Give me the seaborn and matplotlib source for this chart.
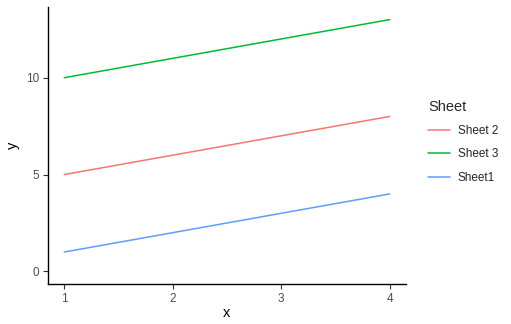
import matplotlib
matplotlib.use("Agg")
import matplotlib.pyplot as plt
import seaborn as sns
import pandas as pd

x_vals = [1, 2, 3, 4]
sheet2 = [5, 6, 7, 8]
sheet3 = [10, 11, 12, 13]
sheet1 = [1, 2, 3, 4]
sheets = ["Sheet 2", "Sheet 3", "Sheet1"]
colors = ["#F8766D", "#00BA38", "#619CFF"]

df = pd.concat([
    pd.DataFrame({"x": x_vals, "y": sheet2, "Sheet": sheets[0]}),
    pd.DataFrame({"x": x_vals, "y": sheet3, "Sheet": sheets[1]}),
    pd.DataFrame({"x": x_vals, "y": sheet1, "Sheet": sheets[2]}),
])

sns.set_style("ticks")
plt.rcParams['font.family'] = ['Liberation Sans', 'DejaVu Sans']

W, H = 511, 324
fig = plt.figure(figsize=(W / 100, H / 100), dpi=100)
ax = fig.add_axes([48 / W, (H - 284) / H, (406 - 48) / W, (284 - 7) / H])

sns.lineplot(data=df, x="x", y="y", hue="Sheet", hue_order=sheets,
             palette=colors, ax=ax, linewidth=1.1, legend=True)

ax.set_xlim(0.85, 4.15)
ax.set_ylim(-0.65, 13.65)
ax.set_xticks([1, 2, 3, 4])
ax.set_yticks([0, 5, 10])
ax.tick_params(axis="both", labelsize=8.5, labelcolor="#4D4D4D", color="#333333",
               length=3.5, width=0.8, pad=3)
for side in ["top", "right"]:
    ax.spines[side].set_visible(False)
for side in ["left", "bottom"]:
    ax.spines[side].set_color("black")
    ax.spines[side].set_linewidth(1.0)
ax.set_xlabel("x", fontsize=10.5, color="black", labelpad=1)
ax.set_ylabel("y", fontsize=10.5, color="black", labelpad=4)

handles, labels = ax.get_legend_handles_labels()
leg = ax.legend(handles, labels, title="Sheet", frameon=False,
                loc="upper left", bbox_to_anchor=(428 / W, (H - 100) / H),
                bbox_transform=fig.transFigure, fontsize=8.5,
                title_fontsize=10.5, handlelength=1.9, handletextpad=0.6,
                labelspacing=0.95, borderaxespad=0, borderpad=0)
leg._legend_box.align = "left"

fig.savefig("out.png", dpi=100)
